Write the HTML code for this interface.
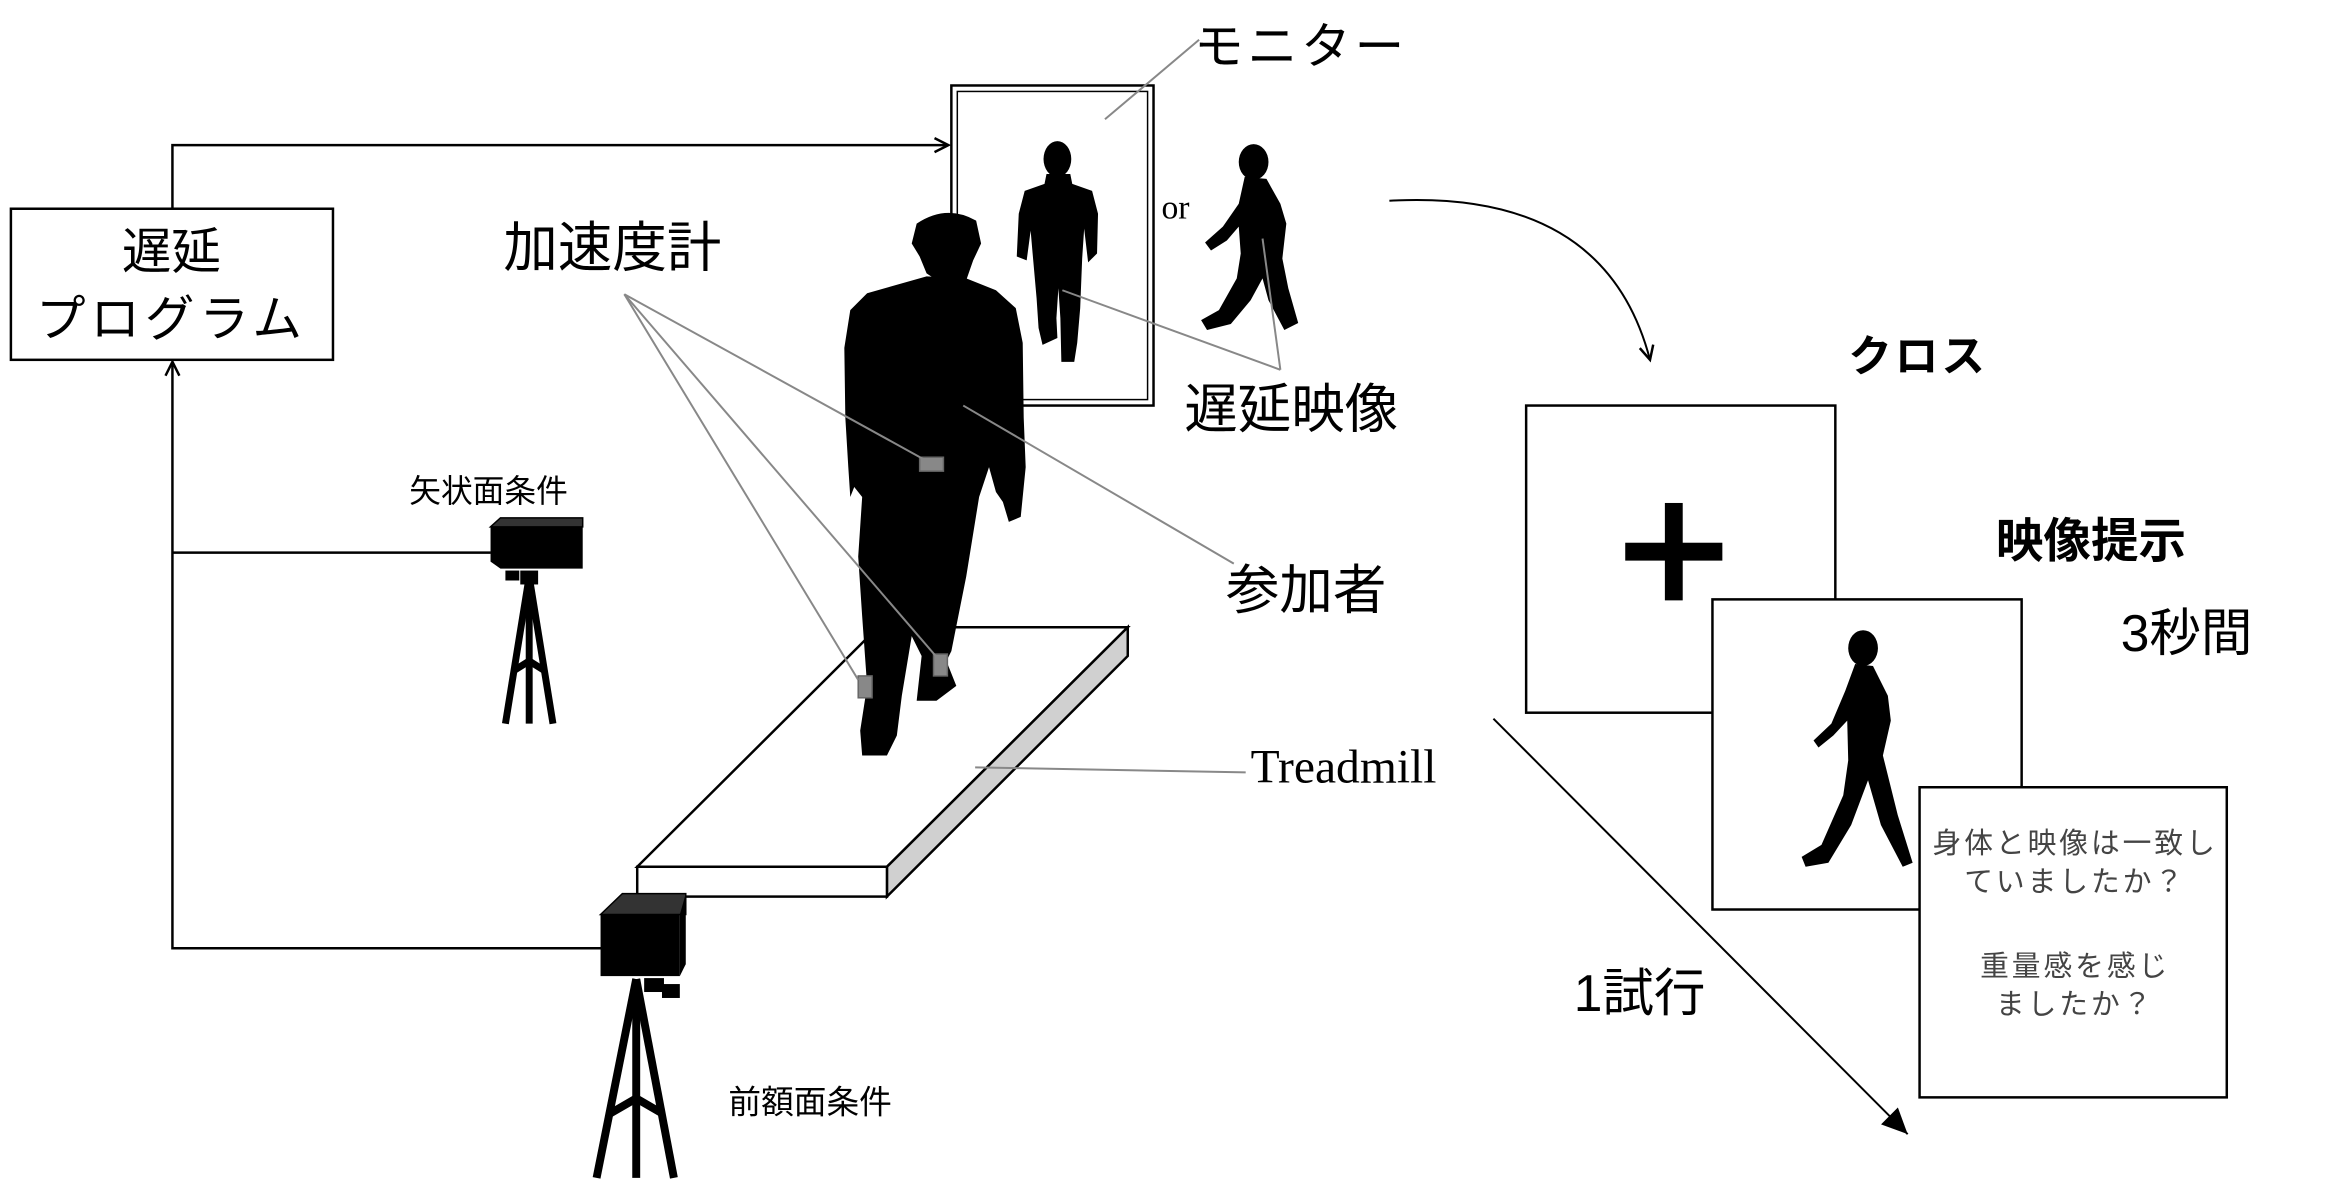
<!DOCTYPE html>
<html><head><meta charset="utf-8"><style>
html,body{margin:0;padding:0;background:#fff;}
svg{display:block;}
.j{font-family:"Liberation Sans","Noto Sans CJK JP",sans-serif;}
</style></head><body>
<svg width="2328" height="1199" viewBox="0 0 2328 1199" xmlns="http://www.w3.org/2000/svg">
<defs>
<marker id="oa" markerWidth="20" markerHeight="20" refX="16" refY="8" orient="auto" markerUnits="userSpaceOnUse"><path d="M2,1 L16,8 L2,15" fill="none" stroke="#000" stroke-width="2.5"/></marker>
<marker id="fa" markerWidth="30" markerHeight="30" refX="26" refY="12" orient="auto" markerUnits="userSpaceOnUse"><path d="M0,0 L26,12 L0,24 Z" fill="#000"/></marker>
</defs>
<g transform="scale(0.991,0.994)">
<!-- program box & connectors -->
<rect x="11" y="210" width="325" height="152" fill="#fff" stroke="#000" stroke-width="2.5"/>
<text x="173" y="270" class="j" font-size="50" text-anchor="middle">遅延</text>
<text x="173" y="338" class="j" font-size="50" text-anchor="middle" letter-spacing="5">プログラム</text>
<polyline points="174,210 174,146 957,146" fill="none" stroke="#000" stroke-width="2.5" marker-end="url(#oa)"/>
<polyline points="610,954 174,954 174,364" fill="none" stroke="#000" stroke-width="2.5" marker-end="url(#oa)"/>
<line x1="174" y1="556" x2="495" y2="556" stroke="#000" stroke-width="2.5"/>

<!-- monitor -->
<rect x="960" y="86" width="204" height="322" fill="#fff" stroke="#000" stroke-width="2.5"/>
<rect x="966" y="92" width="192" height="310" fill="none" stroke="#000" stroke-width="1.5"/>
<line x1="1115" y1="120" x2="1210" y2="40" stroke="#888" stroke-width="2"/>
<text x="1205" y="64" class="j" font-size="50" letter-spacing="4">モニター</text>

<!-- mirror silhouette -->
<g fill="#000">
<ellipse cx="1067" cy="160" rx="14" ry="18"/>
<path d="M1056,175 L1080,175 L1082,185 L1102,192 L1108,215 L1107,255 L1098,264 L1094,230 L1092,260 L1090,310 L1087,345 L1084,364 L1071,364 L1070,320 L1068,290 L1066,320 L1067,340 L1052,347 L1048,330 L1046,300 L1042,255 L1040,232 L1036,262 L1026,258 L1028,215 L1034,192 L1054,185 Z"/>
<!-- walking silhouette -->
<ellipse cx="1265" cy="163" rx="15" ry="18"/>
<path d="M1256,178 L1278,180 L1292,205 L1298,225 L1294,260 L1300,290 L1310,325 L1296,332 L1280,302 L1274,280 L1262,302 L1242,326 L1218,332 L1212,322 L1230,312 L1248,280 L1252,255 L1250,228 L1238,242 L1222,252 L1216,244 L1234,228 L1250,205 Z"/>
</g>
<text x="1172" y="220" font-family="Liberation Serif,serif" font-size="34">or</text>

<!-- 遅延映像 pointers -->
<line x1="1072" y1="292" x2="1292" y2="372" stroke="#888" stroke-width="2"/>
<line x1="1274" y1="240" x2="1292" y2="372" stroke="#888" stroke-width="2"/>
<text x="1195" y="430" class="j" font-size="54">遅延映像</text>

<!-- treadmill -->
<polygon points="643,872 895,872 1138,631 886,631" fill="#fff" stroke="#000" stroke-width="2.5"/>
<polygon points="895,872 1138,631 1138,660 895,902" fill="#d0d0d0" stroke="#000" stroke-width="2.5"/>
<rect x="643" y="872" width="252" height="30" fill="#fff" stroke="#000" stroke-width="2.5"/>
<line x1="984" y1="772" x2="1257" y2="777" stroke="#888" stroke-width="2"/>
<text x="1262" y="787" font-family="Liberation Serif,serif" font-size="48">Treadmill</text>

<!-- big person -->
<g fill="#000">
<path d="M925,225 Q955,205 985,222 L990,245 L982,262 L975,282 L950,285 L935,275 L928,258 L920,245 Z"/>
<path d="M935,278 L975,280 L1005,292 L1025,310 L1032,345 L1033,420 L1035,470 L1030,520 L1018,525 L1012,505 L1005,495 L998,470 L988,500 L975,580 L960,655 L955,665 L965,690 L945,705 L925,705 L930,660 L920,640 L910,700 L905,740 L895,760 L870,760 L868,735 L875,690 L870,620 L866,560 L870,500 L862,490 L858,500 L856,470 L853,420 L852,350 L858,312 L875,295 Z"/>
</g>
<rect x="928" y="460" width="24" height="14" fill="#888" stroke="#666" stroke-width="1.5"/>
<rect x="942" y="658" width="14" height="22" fill="#888" stroke="#666" stroke-width="1.5"/>
<rect x="866" y="680" width="14" height="22" fill="#888" stroke="#666" stroke-width="1.5"/>

<!-- accelerometer pointers -->
<g stroke="#888" stroke-width="2">
<line x1="630" y1="296" x2="932" y2="462"/>
<line x1="630" y1="296" x2="946" y2="662"/>
<line x1="630" y1="296" x2="866" y2="684"/>
<line x1="972" y1="408" x2="1245" y2="567"/>
</g>
<text x="508" y="268" class="j" font-size="55">加速度計</text>
<text x="1237" y="612" class="j" font-size="54">参加者</text>

<!-- sagittal camera -->
<polygon points="495,530 505,521 588,521 588,530" fill="#333" stroke="#000" stroke-width="1.5"/>
<polygon points="495,530 588,530 588,572 505,572 495,565" fill="#000"/>
<rect x="510" y="574" width="14" height="10" fill="#000"/>
<rect x="525" y="574" width="18" height="14" fill="#000"/>
<g stroke="#000" stroke-width="7" fill="none">
<line x1="534" y1="580" x2="510" y2="728"/>
<line x1="534" y1="580" x2="558" y2="728"/>
<line x1="534" y1="580" x2="534" y2="728"/>
<polyline points="518,675 534,665 550,675"/>
</g>
<text x="413" y="505" class="j" font-size="32">矢状面条件</text>

<!-- frontal camera -->
<polygon points="606,920 628,899 692,899 692,920" fill="#333" stroke="#000" stroke-width="1.5"/>
<rect x="606" y="920" width="80" height="62" fill="#000"/>
<polygon points="686,920 692,899 692,970 686,982" fill="#000"/>
<rect x="650" y="984" width="20" height="14" fill="#000"/>
<rect x="668" y="990" width="18" height="14" fill="#000"/>
<g stroke="#000" stroke-width="8" fill="none">
<line x1="642" y1="985" x2="602" y2="1185"/>
<line x1="642" y1="985" x2="680" y2="1185"/>
<line x1="642" y1="985" x2="642" y2="1185"/>
<polyline points="616,1120 642,1105 668,1120"/>
</g>
<text x="735" y="1120" class="j" font-size="33">前額面条件</text>

<!-- right side -->
<path d="M1402,202 Q1620,190 1665,362" fill="none" stroke="#000" stroke-width="2" marker-end="url(#oa)"/>
<text x="1865" y="374" class="j" font-size="44" font-weight="bold" letter-spacing="3">クロス</text>
<rect x="1540" y="408" width="312" height="309" fill="#fff" stroke="#000" stroke-width="2.5"/>
<rect x="1640" y="546" width="98" height="18" fill="#000"/>
<rect x="1680" y="506" width="18" height="98" fill="#000"/>
<text x="2014" y="561" class="j" font-size="48" font-weight="bold">映像提示</text>
<text x="2140" y="655" class="j" font-size="52">3秒間</text>

<rect x="1728" y="603" width="312" height="312" fill="#fff" stroke="#000" stroke-width="2.5"/>
<g fill="#000">
<ellipse cx="1880" cy="652" rx="15" ry="18"/>
<path d="M1872,668 L1890,670 L1905,700 L1908,725 L1900,760 L1915,820 L1930,868 L1920,872 L1898,830 L1885,785 L1868,830 L1845,868 L1822,872 L1818,862 L1838,850 L1860,800 L1865,765 L1864,725 L1850,740 L1835,752 L1830,745 L1848,728 L1862,695 Z"/>
</g>

<rect x="1937" y="792" width="310" height="312" fill="#fff" stroke="#000" stroke-width="2.5"/>
<g class="j" font-size="29" fill="#444" text-anchor="middle" letter-spacing="3">
<text x="2094" y="858">身体と映像は一致し</text>
<text x="2094" y="897">ていましたか？</text>
<text x="2094" y="982">重量感を感じ</text>
<text x="2094" y="1020">ましたか？</text>
</g>

<line x1="1507" y1="723" x2="1925" y2="1141" stroke="#000" stroke-width="2" marker-end="url(#fa)"/>
<text x="1588" y="1017" class="j" font-size="52">1試行</text>
</g>
</svg>
</body></html>
